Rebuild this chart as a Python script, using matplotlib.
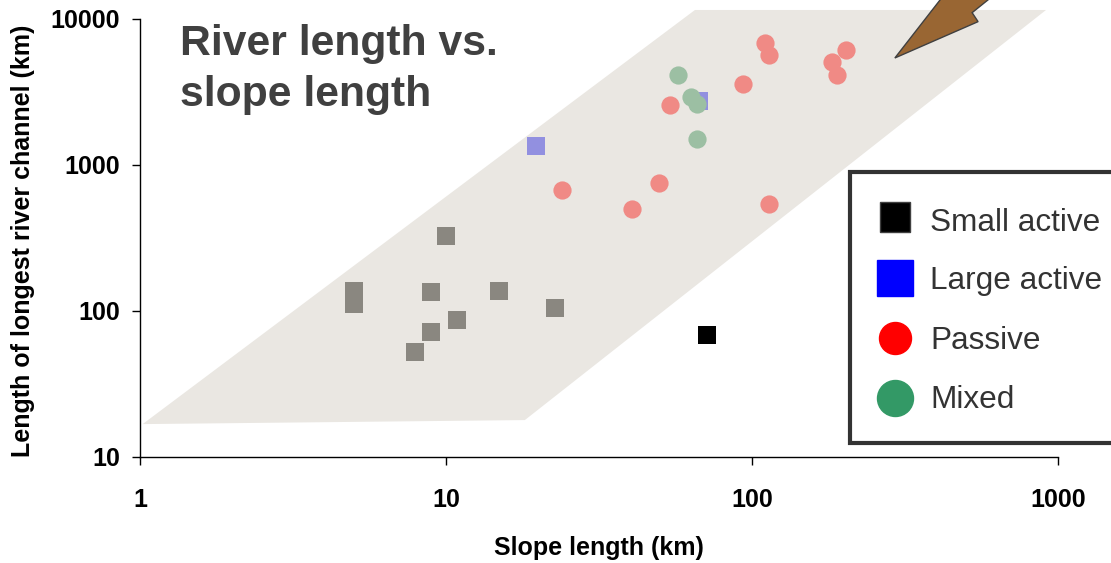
"""River length vs. slope length chart."""

import matplotlib

matplotlib.use("Agg")

import matplotlib.pyplot as plt
from matplotlib.lines import Line2D
from matplotlib.patches import Polygon, Rectangle

small_x = [5.0, 5.0, 10.0, 8.9, 14.9, 22.7, 10.9, 8.9, 7.9]
small_y = [137, 112, 326, 134, 138, 105, 87, 72, 52]
small_dark_x = [71.3]
small_dark_y = [68.5]
large_x = [19.7, 67.1]
large_y = [1349, 2744]
passive_x = [23.9, 40.5, 49.7, 54.0, 93.5, 110, 113.7, 113.7, 182.5, 189.6, 202.8]
passive_y = [674, 500, 753, 2576, 3589, 6850, 5666, 541, 5073, 4133, 6134]
mixed_x = [57.3, 63.2, 66.1, 66.1]
mixed_y = [4133, 2900, 2617, 1507]

band_x = [1.02, 18.1, 914, 65.1]
band_y = [16.8, 17.9, 11530, 11530]
arrow_x = [293, 548, 524, 649, 437]
arrow_y = [5407, 9590, 11050, 15850, 15850]

x_ticks = [1, 10, 100, 1000]
y_ticks = [10, 100, 1000, 10000]
legend_names = ["Small active", "Large active", "Passive", "Mixed"]

W, H = 1111, 563
FONT = "Liberation Sans"


def fx(px):
    return px / W


def fy(py):
    return 1 - py / H


fig = plt.figure(figsize=(W / 100, H / 100), dpi=100)
ax = fig.add_axes([fx(140), fy(457), (1058 - 140) / W, (457 - 19) / H])
ax.patch.set_visible(False)
ax.set_xscale("log")
ax.set_yscale("log")
ax.set_xlim(1, 1000)
ax.set_ylim(10, 10000)

ax.add_patch(
    Polygon(list(zip(band_x, band_y)), closed=True, fc="#EAE7E2", ec="none",
            clip_on=False, zorder=1)
)
ax.add_patch(
    Polygon(list(zip(arrow_x, arrow_y)), closed=True, fc="#996633", ec="#404040",
            lw=1.0, clip_on=False, zorder=2)
)

ax.scatter(small_x, small_y, marker="s", s=150, c="#8A8780", lw=0, zorder=3, clip_on=False)
ax.scatter(small_dark_x, small_dark_y, marker="s", s=150, c="black", lw=0, zorder=3)
ax.scatter(large_x, large_y, marker="s", s=150, c="#9290E0", lw=0, zorder=3)
ax.scatter(passive_x, passive_y, marker="o", s=172, c="#F08A85", lw=0, zorder=4)
ax.scatter(mixed_x, mixed_y, marker="o", s=172, c="#9CBFA3", lw=0, zorder=5)

for side in ["top", "right"]:
    ax.spines[side].set_visible(False)
for side in ["left", "bottom"]:
    ax.spines[side].set_linewidth(1.0)
ax.set_xticks(x_ticks, [str(t) for t in x_ticks])
ax.set_yticks(y_ticks, [str(t) for t in y_ticks])
ax.minorticks_off()
ax.tick_params(length=6, width=1.0, labelsize=18)
ax.tick_params(axis="x", pad=16)
ax.tick_params(axis="y", pad=8.5)
for label in ax.get_xticklabels() + ax.get_yticklabels():
    label.set_fontfamily(FONT)
    label.set_fontweight("bold")

fig.text(fx(599), fy(548), "Slope length (km)", ha="center", va="center",
         family=FONT, weight="bold", fontsize=18)
fig.text(fx(23.5), fy(241), "Length of longest river channel (km)", ha="center", va="center",
         rotation=90, family=FONT, weight="bold", fontsize=18)
fig.text(fx(180), fy(55), "River length vs.", family=FONT, weight="bold", fontsize=30.7, color="#404040")
fig.text(fx(180), fy(106), "slope length", family=FONT, weight="bold", fontsize=30.7, color="#404040")

# legend box runs off the right edge of the figure
fig.add_artist(
    Rectangle((fx(850), fy(443)), (1125 - 850) / W, (443 - 172) / H, transform=fig.transFigure,
              fc="white", ec="#333333", lw=3, zorder=10)
)
legend_rows = [
    (217, 223, "s", 30, "black", "#404040"),
    (278, 281, "s", 36, "#0000FF", "#0000FF"),
    (338, 341, "o", 32, "#FF0000", "#FF0000"),
    (398, 400, "o", 36, "#339966", "#339966"),
]
for (py, text_py, marker, size, color, edge), name in zip(legend_rows, legend_names):
    fig.add_artist(
        Line2D([fx(895)], [fy(py)], marker=marker, ms=size * 0.72, mfc=color, mec=edge, mew=1,
               ls="none", transform=fig.transFigure, zorder=11)
    )
    fig.text(fx(930), fy(text_py), name, va="center", family=FONT, fontsize=22.7,
             color="#333333", zorder=11)

fig.savefig("out.png", dpi=100)
